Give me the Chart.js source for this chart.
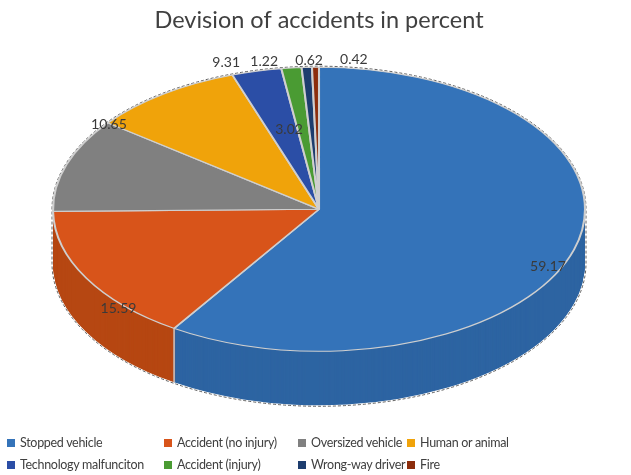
<!DOCTYPE html>
<html>
<head>
<meta charset="utf-8">
<script src="https://cdn.jsdelivr.net/npm/chart.js@4.4.0/dist/chart.umd.min.js"></script>
<style>
    body { margin: 0; background: #fff; }
    #wrap { position: relative; width: 631px; height: 475px; }
    .item { position: absolute; display: flex; align-items: center; font: 12.5px Lato, sans-serif; letter-spacing: -0.3px; color: #404040; white-space: nowrap; line-height: 16px; }
    .box { width: 8px; height: 8px; margin-right: 5px; }
</style>
</head>
<body>
<div id="wrap">
    <canvas id="chart"></canvas>
    <div id="legend"></div>
</div>
<script>
// values
const categories = ['Stopped vehicle', 'Accident (no injury)', 'Oversized vehicle', 'Human or animal',
    'Technology malfunciton', 'Accident (injury)', 'Wrong-way driver', 'Fire'];
const percents = [59.17, 15.59, 10.65, 9.31, 3.02, 1.22, 0.62, 0.42];
const valueLabels = ['59.17', '15.59', '10.65', '9.31', '3.02', '1.22', '0.62', '0.42'];

const topColors = ['#3473b9', '#d8541a', '#808080', '#f0a30a', '#2b4ea6', '#4a9b33', '#1d3d6e', '#8c2d0c'];
const sideColors = ['#2d64a2', '#b64712', '#6b6b6b', '#cc8a08', '#22418b', '#3d822a', '#17325b', '#73250a'];

// where each value label sits: t = fraction along the slice angle, f = fraction of radius
const labelSpots = [[0.54, 0.95], [0.25, 1.03], [0.99, 0.99], [1.01, 1.09], [0.7, 0.57], [-0.7, 1.06], [0.77, 1.05], [5.7, 1.06]];

// legend grid (html so the columns line up like the original)
const legendCols = [7, 164, 298, 407];
const legendRows = [435, 457];
const legend = document.getElementById('legend');
categories.forEach((name, i) => {
    const el = document.createElement('div');
    el.className = 'item';
    el.style.left = legendCols[i % 4] + 'px';
    el.style.top = legendRows[Math.floor(i / 4)] + 'px';
    el.innerHTML = `<span class="box" style="background:${topColors[i]}"></span>${name}`;
    legend.appendChild(el);
});

// fake 3d: squash the pie and stack darker copies underneath for the side wall
const tilt3d = {
    id: 'tilt3d',
    beforeDatasetsDraw(chart, args, opts) {
        const ctx = chart.ctx;
        const meta = chart.getDatasetMeta(0);
        const area = chart.chartArea;
        const first = meta.data[0];
        const R = first.outerRadius;
        const rx = (area.right - area.left) / 2;
        const ry = rx * opts.tilt;
        const depth = Math.round(area.bottom - area.top - 2 * ry);
        const cx = (area.left + area.right) / 2;
        const cy = area.top + ry;
        chart.$tilt = { cx, cy, rx, ry, depth };

        const squash = (dy) => {
            ctx.translate(cx, cy + dy);
            ctx.scale(rx / R, ry / R);
            ctx.translate(-first.x, -first.y);
        };

        for (let d = depth; d >= 1; d--) {
            ctx.save();
            squash(d);
            meta.data.forEach((arc, i) => {
                const copy = Object.create(arc);
                copy.options = Object.assign({}, arc.options, { backgroundColor: sideColors[i], borderWidth: 0 });
                arc.draw.call(copy, ctx);
            });
            ctx.restore();
        }

        // slice edges running down the side wall
        ctx.save();
        ctx.strokeStyle = '#c8c8c8';
        ctx.lineWidth = 1.5;
        meta.data.forEach(arc => {
            const a = arc.startAngle;
            if (Math.sin(a) > 0.02) {
                const px = cx + rx * Math.cos(a), py = cy + ry * Math.sin(a);
                ctx.beginPath();
                ctx.moveTo(px, py);
                ctx.lineTo(px, py + depth);
                ctx.stroke();
            }
        });
        // dark dashed outline round the silhouette
        ctx.strokeStyle = 'rgba(30,30,30,0.7)';
        ctx.lineWidth = 1;
        ctx.setLineDash([3, 2]);
        ctx.beginPath();
        ctx.ellipse(cx, cy, rx + 1, ry + 1, 0, Math.PI, 2 * Math.PI);
        ctx.lineTo(cx + rx + 1, cy + depth);
        ctx.ellipse(cx, cy + depth, rx + 1, ry + 1, 0, 0, Math.PI);
        ctx.closePath();
        ctx.stroke();
        ctx.restore();

        ctx.save();
        squash(0);
    },
    afterDatasetsDraw(chart, args, opts) {
        const ctx = chart.ctx;
        ctx.restore();
        const { cx, cy, rx, ry } = chart.$tilt;
        const meta = chart.getDatasetMeta(0);
        ctx.save();
        ctx.font = '14px Lato, sans-serif';
        ctx.fillStyle = '#3a3a3a';
        ctx.textAlign = 'center';
        ctx.textBaseline = 'middle';
        meta.data.forEach((arc, i) => {
            const [t, f] = labelSpots[i];
            const a = arc.startAngle + t * (arc.endAngle - arc.startAngle);
            ctx.fillText(valueLabels[i], cx + rx * f * Math.cos(a), cy + ry * f * Math.sin(a));
        });
        ctx.restore();
    }
};

new Chart(document.getElementById('chart'), {
    type: 'pie',
    data: {
        labels: categories,
        datasets: [{
            data: percents,
            backgroundColor: topColors,
            borderColor: '#cfcfcf',
            borderWidth: 1.3,
            borderJoin: 'round'
        }]
    },
    options: {
        responsive: true,
        maintainAspectRatio: false,
        animation: false,
        layout: { padding: { left: 53, right: 46, top: 0, bottom: 70 } },
        plugins: {
            legend: { display: false },
            tooltip: { enabled: false },
            title: {
                display: true,
                text: 'Devision of accidents in percent',
                color: '#404040',
                font: { family: 'Lato', size: 23.5, weight: 'normal' },
                padding: { top: 6, bottom: 33 }
            },
            tilt3d: { tilt: 0.534 }
        }
    },
    plugins: [tilt3d]
});
</script>
</body>
</html>
